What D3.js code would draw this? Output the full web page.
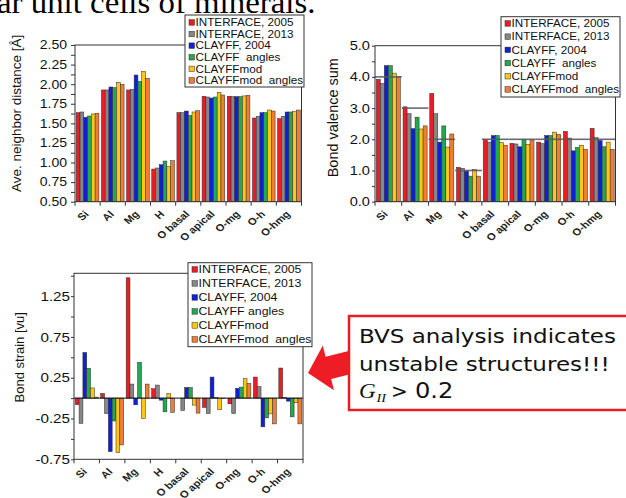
<!DOCTYPE html>
<html>
<head>
<meta charset="utf-8">
<script src="https://cdn.jsdelivr.net/npm/d3@7"></script>
<style>
  html, body { margin: 0; padding: 0; background: #fff; }
  svg { display: block; }
  text { font-family: "Liberation Sans", Arial, sans-serif; fill: #111; }
</style>
</head>
<body>
<svg id="fig" width="626" height="498"></svg>
<script>
// ---- data -------------------------------------------------------------
const categories = ["Si", "Al", "Mg", "H", "O basal", "O apical", "O-mg", "O-h", "O-hmg"];
const seriesNames = ["INTERFACE, 2005", "INTERFACE, 2013", "CLAYFF, 2004",
                     "CLAYFF\u00a0 angles", "CLAYFFmod", "CLAYFFmod\u00a0 angles"];
const seriesNamesStrain = ["INTERFACE, 2005", "INTERFACE, 2013", "CLAYFF, 2004",
                           "CLAYFF angles", "CLAYFFmod", "CLAYFFmod\u00a0 angles"];
const seriesColors = ["#ec1c24", "#878787", "#1020d8", "#22a84e", "#ffc713", "#f07d35"];

// one row per category, one value per force field (series order above)
const neighborDistance = [
  [1.636, 1.645, 1.577, 1.594, 1.620, 1.628],
  [1.926, 1.926, 1.964, 1.955, 2.023, 1.998],
  [1.926, 1.934, 2.117, 2.036, 2.160, 2.074],
  [0.917, 0.930, 0.972, 1.019, 0.951, 1.023],
  [1.636, 1.636, 1.657, 1.600, 1.645, 1.662],
  [1.845, 1.836, 1.823, 1.836, 1.896, 1.862],
  [1.845, 1.840, 1.840, 1.840, 1.850, 1.857],
  [1.568, 1.589, 1.636, 1.636, 1.670, 1.657],
  [1.560, 1.589, 1.645, 1.645, 1.650, 1.670]
];
const bondValenceSum = [
  [3.92, 3.79, 4.36, 4.36, 4.12, 4.01],
  [3.04, 2.82, 2.34, 2.71, 2.33, 2.43],
  [3.47, 2.82, 1.91, 2.43, 1.75, 2.17],
  [1.10, 1.07, 0.98, 0.82, 1.04, 0.82],
  [1.99, 1.91, 2.12, 2.12, 1.90, 1.81],
  [1.87, 1.85, 1.76, 2.00, 1.84, 1.98],
  [1.91, 1.86, 2.12, 2.12, 2.23, 2.16],
  [2.25, 2.04, 1.63, 1.74, 1.81, 1.68],
  [2.35, 2.05, 1.96, 1.76, 1.91, 1.68]
];
const formalValence = [4, 3, 2, 1, 2, 2, 2, 2, 2];
const bondStrain = [
  [-0.080, -0.310,  0.560,  0.365,  0.125,  0.012],
  [ 0.057, -0.190, -0.656, -0.280, -0.668, -0.574],
  [ 1.475,  0.172, -0.082,  0.438, -0.250,  0.172],
  [ 0.115,  0.160, -0.025, -0.168,  0.057, -0.176],
  [ 0.000, -0.152,  0.130,  0.130, -0.086, -0.184],
  [-0.115, -0.190,  0.258,  0.005, -0.143, -0.005],
  [-0.070, -0.190,  0.120,  0.135,  0.238,  0.180],
  [ 0.258,  0.140, -0.352, -0.242, -0.193, -0.316],
  [ 0.369,  0.008, -0.037, -0.230, -0.057, -0.316]
];

// ---- helpers ----------------------------------------------------------
const svg = d3.select("#fig");
const K = 1.17; // horizontal text widening

function label(parent, x, y, str, o = {}) {
  const k = o.k ?? K;
  const t = parent.append("text")
    .attr("transform", `translate(${x},${y}) scale(${k},1)` + (o.rot ? ` rotate(${o.rot})` : ""))
    .attr("text-anchor", o.anchor || "start")
    .style("font-size", (o.size || 12) + "px")
    .style("white-space", "pre")
    .text(str);
  if (o.weight) t.style("font-weight", o.weight);
  if (o.family) t.style("font-family", o.family);
  if (o.italic) t.style("font-style", "italic");
  if (o.fill) t.style("fill", o.fill);
  if (o.dy) t.attr("dy", o.dy);
  return t;
}

function drawChart(c) {
  const g = svg.append("g");
  const x = d3.scaleBand().domain(categories).range([c.x0, c.x1])
    .paddingInner(0.1).paddingOuter(0.05);
  const xs = d3.scaleBand().domain(d3.range(6)).range([0, x.bandwidth()]);
  const y = d3.scaleLinear().domain(c.domain).range([c.y1, c.y0]);
  const base = c.base;

  // bars
  categories.forEach((cat, i) => {
    g.append("g").selectAll("rect").data(c.values[i]).join("rect")
      .attr("x", (d, j) => x(cat) + xs(j))
      .attr("width", xs.bandwidth())
      .attr("y", d => Math.min(y(d), y(base)))
      .attr("height", d => Math.abs(y(d) - y(base)))
      .attr("fill", (d, j) => seriesColors[j])
      .attr("stroke", "#2a2a2a").attr("stroke-width", 0.5);
  });

  if (c.refLines) {
    const half = x.step() * x.paddingInner() / 2;
    categories.forEach((cat, i) => {
      g.append("line")
        .attr("x1", Math.max(c.x0, x(cat) - half))
        .attr("x2", Math.min(c.x1, x(cat) + x.bandwidth() + half))
        .attr("y1", y(c.refLines[i])).attr("y2", y(c.refLines[i]))
        .attr("stroke", "#5a5a5a").attr("stroke-width", 1.6).attr("stroke-opacity", 0.9);
    });
  }
  if (c.zeroLine) {
    g.append("line").attr("x1", c.x0).attr("x2", c.x1)
      .attr("y1", y(0)).attr("y2", y(0)).attr("stroke", "#111").attr("stroke-width", 1);
  }

  // y axis
  const ticks = d3.range(c.domain[0], c.tickMax + 1e-9, c.tickStep);
  const yAxis = d3.axisLeft(y).tickValues(ticks)
    .tickSize(c.tickSize).tickPadding(c.tickPad)
    .tickFormat(d => c.isLabel(d) ? c.fmt(d) : "");
  const ya = g.append("g").attr("transform", `translate(${c.x0},0)`).call(yAxis);
  ya.select(".domain").remove();
  ya.selectAll(".tick line").attr("stroke", "#333");
  ya.selectAll(".tick text").style("font-size", c.tickFont + "px").style("fill", "#111")
    .style("font-family", "'Liberation Sans', Arial, sans-serif")
    .each(function () {
      const t = d3.select(this);
      const tx = +t.attr("x");
      t.attr("x", 0).attr("transform", `translate(${tx},0) scale(${K},1)`);
    });

  // x axis: ticks at group boundaries
  const bounds = d3.range(categories.length + 1).map(i => c.x0 + i * x.step());
  g.append("g").selectAll("line").data(bounds).join("line")
    .attr("x1", d => d).attr("x2", d => d)
    .attr("y1", c.y1).attr("y2", c.y1 + 4)
    .attr("stroke", "#333");
  categories.forEach(cat => {
    label(g, x(cat) + x.bandwidth() / 2 + c.catDx, c.y1 + c.catDy, cat,
      { size: 9.8, anchor: "end", rot: -45, weight: "bold", fill: "#222", k: 1.15 });
  });

  // frame
  g.append("rect").attr("x", c.x0).attr("y", c.y0)
    .attr("width", c.x1 - c.x0).attr("height", c.y1 - c.y0)
    .attr("fill", "none").attr("stroke", "#333").attr("stroke-width", 1);

  // y title
  label(g, c.titleX, (c.y0 + c.y1) / 2 + c.titleDy, c.title,
    { size: c.titleFont, anchor: "middle", rot: -90, k: 1 });

  // legend
  const L = c.legend;
  const lg = g.append("g");
  lg.append("rect").attr("x", L.x).attr("y", L.y).attr("width", L.w).attr("height", L.h)
    .attr("fill", "#fff").attr("stroke", "#333").attr("stroke-width", 1);
  c.names.forEach((name, j) => {
    const cy = L.y + L.first + j * L.step;
    lg.append("rect").attr("x", L.x + 4).attr("y", cy - 2.8).attr("width", 5.5).attr("height", 5.5)
      .attr("fill", seriesColors[j]).attr("stroke", "#2a2a2a").attr("stroke-width", 0.5);
    label(lg, L.x + 10.5, cy, name, { size: L.font, dy: "0.36em" });
  });
}

// ---- panel 1: average neighbour distance ------------------------------
drawChart({
  x0: 75, x1: 301.5, y0: 45, y1: 201.7,
  domain: [0.5, 2.5], base: 0.5, tickStep: 0.125, tickMax: 2.5,
  isLabel: d => Math.abs(d * 4 - Math.round(d * 4)) < 1e-6,
  fmt: d => d.toFixed(2), tickSize: 4, tickPad: 4, tickFont: 12,
  values: neighborDistance, names: seriesNames,
  title: "Ave. neighbor distance [Å]", titleX: 21, titleDy: -10, titleFont: 13.5,
  catDx: 2, catDy: 13,
  legend: { x: 185, y: 15, w: 119, h: 72, first: 7.5, step: 11.6, font: 10 }
});

// ---- panel 2: bond valence sum ----------------------------------------
drawChart({
  x0: 375, x1: 615.5, y0: 45.7, y1: 201.7,
  domain: [0, 5], base: 0, tickStep: 0.5, tickMax: 5,
  isLabel: d => Math.abs(d - Math.round(d)) < 1e-6,
  fmt: d => d.toFixed(1), tickSize: 3, tickPad: 2, tickFont: 12.5,
  values: bondValenceSum, names: seriesNames, refLines: formalValence,
  title: "Bond valence sum", titleX: 338, titleDy: -6, titleFont: 14.5,
  catDx: 0, catDy: 13,
  legend: { x: 501, y: 16.7, w: 119, h: 80.3, first: 6.8, step: 13.2, font: 10 }
});

// ---- panel 3: bond strain ---------------------------------------------
drawChart({
  x0: 74, x1: 303, y0: 273.3, y1: 459.3,
  domain: [-0.75, 1.53], base: 0, tickStep: 0.25, tickMax: 1.5, zeroLine: true,
  isLabel: d => Math.abs(((d + 0.75) / 0.5) - Math.round((d + 0.75) / 0.5)) < 1e-6,
  fmt: d => d.toFixed(2), tickSize: 3, tickPad: 1, tickFont: 13,
  values: bondStrain, names: seriesNamesStrain,
  title: "Bond strain [vu]", titleX: 24, titleDy: -9, titleFont: 13,
  catDx: 1, catDy: 13,
  legend: { x: 188, y: 262.7, w: 124, h: 84, first: 6.8, step: 14, font: 10.5 }
});

// ---- heading line above the panels ------------------------------------
label(svg, -3, 12.5, "ar unit cells of minerals.",
  { size: 31, family: "'Liberation Serif', 'Times New Roman', serif", k: 1.06, fill: "#000" });

// ---- call-out ---------------------------------------------------------
const ann = svg.append("g");
ann.append("polygon")
  .attr("points", "0,0 21,-23 21,-11.5 52,-11.5 52,11.5 21,11.5 21,23")
  .attr("transform", "translate(308,373) rotate(-14)")
  .attr("fill", "#ee1c25");
ann.append("rect").attr("x", 349).attr("y", 316).attr("width", 300).attr("height", 94)
  .attr("fill", "#fff").attr("stroke", "#ec1c24").attr("stroke-width", 2.5);
const sans = "'DejaVu Sans', Verdana, sans-serif";
const serif = "'Liberation Serif', 'Times New Roman', serif";
label(ann, 359, 343, "BVS analysis indicates", { size: 20, family: sans, k: 1.15 });
label(ann, 359, 371, "unstable structures!!!", { size: 20, family: sans, k: 1.15 });
label(ann, 359, 398, "G", { size: 22, family: serif, italic: true, k: 1.05 });
label(ann, 376.5, 402, "II", { size: 13, family: serif, italic: true, k: 1.1 });
label(ann, 391, 398, ">", { size: 19, family: sans, k: 1.05 });
label(ann, 415, 398, "0.2", { size: 21, family: sans, k: 1.15 });
</script>
</body>
</html>
